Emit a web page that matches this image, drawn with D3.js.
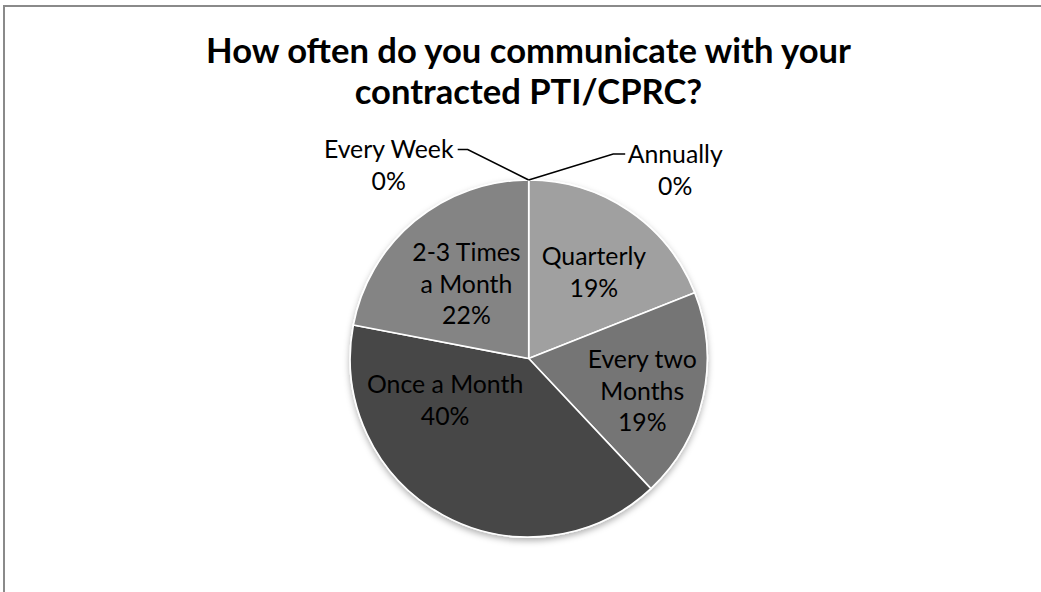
<!DOCTYPE html>
<html>
<head>
<meta charset="utf-8">
<script src="https://cdn.jsdelivr.net/npm/d3@7"></script>
<style>
  html, body { margin: 0; padding: 0; background: #ffffff; }
  svg { display: block; }
</style>
</head>
<body>
<script>
// Survey answers, in the clockwise order the slices are drawn from 12 o'clock
const categories = ["Annually", "Quarterly", "Every two Months", "Once a Month", "2-3 Times a Month", "Every Week"];
const percents = [0, 19, 19, 40, 22, 0];
// Line breaks used by the data labels
const labelLines = [["Annually"], ["Quarterly"], ["Every two", "Months"], ["Once a Month"], ["2-3 Times", "a Month"], ["Every Week"]];
const titleLines = ["How often do you communicate with your", "contracted PTI/CPRC?"];

const W = 1041, H = 592;
const cx = 528.7, cy = 358.5, R = 178.5;
const fills = ["#9f9f9f", "#a0a0a0", "#747474", "#464646", "#848484", "#848484"];
const labelFont = "Lato, 'Noto Sans', sans-serif";
const labelSize = 24.8, lineH = 31.8;

const svg = d3.select("body").append("svg").attr("width", W).attr("height", H);

const defs = svg.append("defs");
const shadow = defs.append("filter").attr("id", "pieShadow")
  .attr("x", "-20%").attr("y", "-20%").attr("width", "140%").attr("height", "140%");
shadow.append("feDropShadow").attr("dx", 0).attr("dy", 3).attr("stdDeviation", 3)
  .attr("flood-color", "#000").attr("flood-opacity", 0.3);

// chart frame (top and left edges)
svg.append("line").attr("x1", 3).attr("x2", W).attr("y1", 6).attr("y2", 6)
  .attr("stroke", "#8a8a8a").attr("stroke-width", 2);
svg.append("line").attr("x1", 4).attr("x2", 4).attr("y1", 5).attr("y2", H)
  .attr("stroke", "#8a8a8a").attr("stroke-width", 2);

// title
svg.append("g").selectAll("text").data(titleLines).join("text")
  .attr("x", 528.5)
  .attr("y", (d, i) => 62.5 + i * 41)
  .attr("text-anchor", "middle")
  .attr("font-family", labelFont)
  .attr("font-weight", "bold")
  .attr("font-size", 34.6)
  .attr("fill", "#000")
  .text(d => d);

const data = categories.map((c, i) => ({ name: c, value: percents[i], lines: labelLines[i], fill: fills[i] }));

const pie = d3.pie().sort(null).value(d => d.value).startAngle(0).endAngle(2 * Math.PI);
const arcs = pie(data);
const arc = d3.arc().innerRadius(0).outerRadius(R);
const labelArc = d3.arc().innerRadius(R * 0.6).outerRadius(R * 0.6);

const g = svg.append("g").attr("transform", `translate(${cx},${cy})`);

g.append("g").attr("filter", "url(#pieShadow)")
  .selectAll("path").data(arcs.filter(a => a.data.value > 0)).join("path")
  .attr("d", arc)
  .attr("fill", d => d.data.fill)
  .attr("stroke", "#ffffff")
  .attr("stroke-width", 1.6)
  .attr("stroke-linejoin", "round");

// nudges applied to the inside labels (best-fit placement)
const nudge = {
  "Quarterly": [5, 2],
  "Every two Months": [9, 9],
  "Once a Month": [-32, -52],
  "2-3 Times a Month": [6, 8]
};
// outside labels for empty slices: label centre and leader elbow, relative to the pie centre
const outside = {
  "Every Week": { x: -140, y: -193, elbow: [-61, -209], end: [-71, -209] },
  "Annually": { x: 146.5, y: -188.5, elbow: [84.5, -204.5], end: [96.5, -204.5] }
};

arcs.forEach(a => {
  const d = a.data;
  const txt = d.lines.concat([Math.round(d.value) + "%"]);
  let px, py;
  if (d.value > 0) {
    const c = labelArc.centroid(a);
    const n = nudge[d.name] || [0, 0];
    px = c[0] + n[0];
    py = c[1] + n[1];
  } else {
    const o = outside[d.name];
    px = o.x; py = o.y;
    const tip = [R * Math.sin(a.startAngle), -R * Math.cos(a.startAngle)];
    g.append("polyline")
      .attr("points", [tip, o.elbow, o.end].map(p => p.join(",")).join(" "))
      .attr("fill", "none").attr("stroke", "#000").attr("stroke-width", 1.6);
  }
  const t = g.append("text")
    .attr("text-anchor", "middle")
    .attr("font-family", labelFont)
    .attr("font-size", labelSize)
    .attr("fill", "#000");
  txt.forEach((s, i) => {
    t.append("tspan")
      .attr("x", px)
      .attr("y", py + (i - (txt.length - 1) / 2) * lineH + labelSize * 0.35)
      .text(s);
  });
});
</script>
</body>
</html>
